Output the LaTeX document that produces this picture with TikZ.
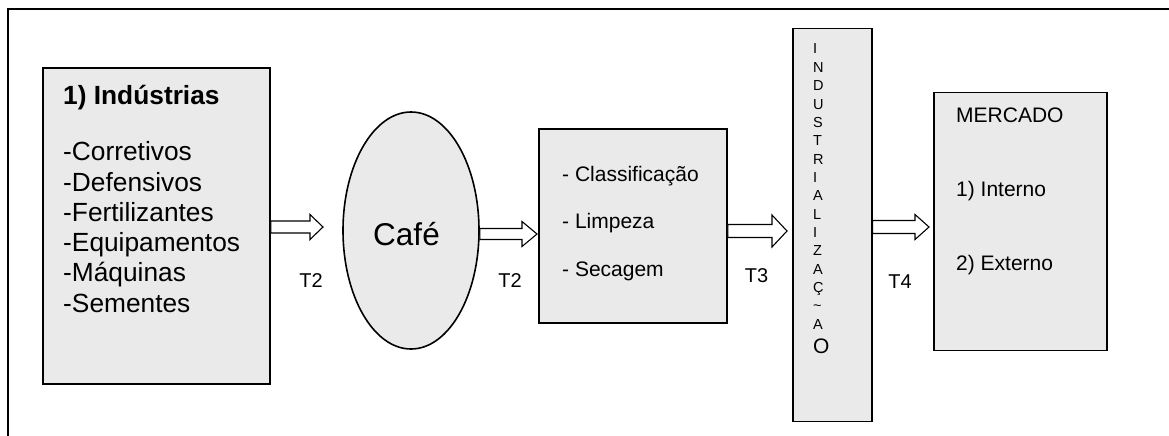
\documentclass[tikz,border=0pt]{standalone}
\usepackage{fontspec}
\setmainfont{Liberation Sans}
\usetikzlibrary{calc,shapes.geometric}
\definecolor{panelgray}{RGB}{234,234,234}

% block arrow: #1 start, #2 tip, #3 shaft half-width, #4 head half-width, #5 head length
\newcommand\blockarrow[5]{%
  \draw[barrow] let \p1=(#1), \p2=(#2) in
    (\x1,{\y1+#3}) -- ({\x2-#5},{\y1+#3}) -- ({\x2-#5},{\y1+#4}) -- (\x2,\y1)
    -- ({\x2-#5},{\y1-#4}) -- ({\x2-#5},{\y1-#3}) -- (\x1,{\y1-#3}) -- cycle;}

\begin{document}
\begin{tikzpicture}[x=1pt,y=-1pt,
  frame/.style={line width=1.8pt},
  panel/.style={draw, line width=1.6pt, fill=panelgray, inner sep=0pt},
  barrow/.style={draw, fill=white, line width=1.1pt, line join=miter},
  txt/.style={inner sep=0pt, font=\fontsize{21}{25}\selectfont},
  big/.style={inner sep=0pt, font=\fontsize{26.3}{30}\selectfont},
  tlabel/.style={inner sep=0pt, anchor=base, font=\fontsize{20}{24}\selectfont},
  letter/.style={inner sep=0pt, anchor=base west, font=\fontsize{14.5}{17}\selectfont}]
\useasboundingbox (0,0) rectangle (1169,436);

% outer frame (top and left edges)
\draw[frame] (1169,9) -- (8,9) -- (8,436);

% boxes
\node[panel, minimum width=227pt, minimum height=316pt] (ind) at (156.5,226) {};
\node[panel, ellipse, minimum width=136pt, minimum height=237pt] (cafe) at (411,230.5) {};
\node[panel, minimum width=188pt, minimum height=194pt] (proc) at (633,226) {};
\node[panel, minimum width=79pt, minimum height=393pt] (indz) at (832.2,225) {};
\node[panel, minimum width=173pt, minimum height=258pt] (merc) at (1020.7,221.5) {};

% industries box
\node[big, anchor=base west, font=\fontsize{26.3}{30}\selectfont\bfseries] (indtitle) at (63,104) {1) Indústrias};
\foreach \t [count=\i] in {-Corretivos,-Defensivos,-Fertilizantes,-Equipamentos,-Máquinas,-Sementes}
  \node[big, anchor=base west] (item\i) at (63,{160.7+30.3*(\i-1)}) {\t};

% coffee
\node[inner sep=0pt, anchor=base, font=\fontsize{31.5}{35}\selectfont] (cafetxt) at (406.5,245) {Café};

% processing steps
\node[txt, anchor=base west] (p1) at (562,181.7) {- Classificação};
\node[txt, anchor=base west] (p2) at (562,228) {- Limpeza};
\node[txt, anchor=base west] (p3) at (562,276.7) {- Secagem};

% vertical lettering
\foreach \l [count=\i] in {I,N,D,U,S,T,R,I,A,L,I,Z,A,Ç,\textasciitilde,A}
  \node[letter] (z\i) at (813,{54+18.35*(\i-1)}) {\l};
\node[letter, font=\fontsize{21}{25}\selectfont] (zlast) at (813,353) {O};

% market
\node[txt, anchor=base west] (m0) at (956,122.7) {MERCADO};
\node[txt, anchor=base west] (m1) at (956,196.7) {1) Interno};
\node[txt, anchor=base west] (m2) at (956,270) {2) Externo};

% arrows
\coordinate (tip1) at (323,227);
\coordinate (tip2) at (537,234);
\coordinate (tip3) at (787,231);
\coordinate (tip4) at (929,227);
\blockarrow{ind.east |- tip1}{tip1}{6}{12.5}{13}
\blockarrow{cafe.east |- tip2}{tip2}{5.5}{12.5}{15}
\blockarrow{proc.east |- tip3}{tip3}{6.5}{16}{15}
\blockarrow{indz.east |- tip4}{tip4}{6.5}{12.5}{14}

% transport labels
\node[tlabel] (l1) at (311,287) {T2};
\node[tlabel] (l2) at (510,287) {T2};
\node[tlabel] (l3) at (756.5,282) {T3};
\node[tlabel] (l4) at (900,288) {T4};
\end{tikzpicture}
\end{document}
